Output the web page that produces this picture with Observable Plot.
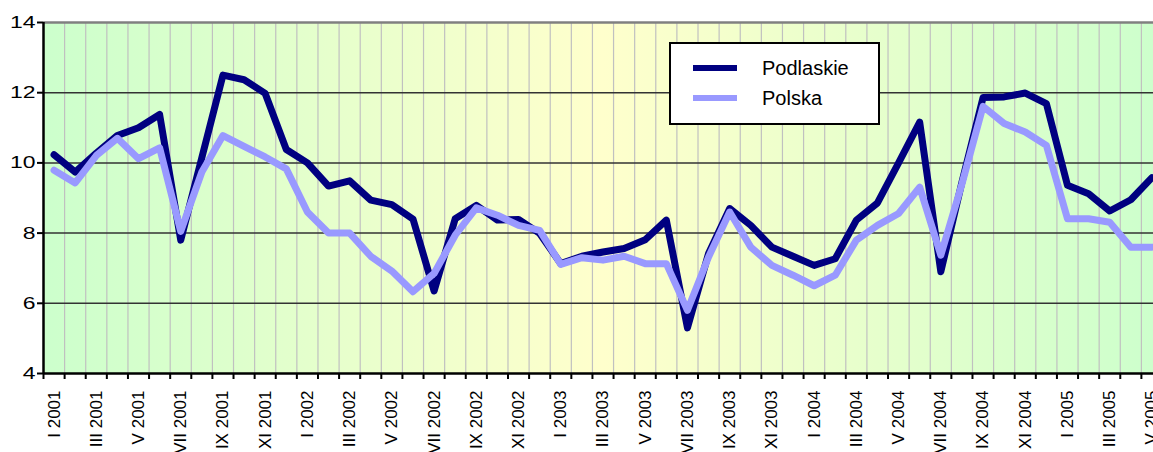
<!DOCTYPE html>
<html>
<head>
<meta charset="utf-8">
<script src="https://cdn.jsdelivr.net/npm/d3@7"></script>
<script src="https://cdn.jsdelivr.net/npm/@observablehq/plot@0.6"></script>
<style>
  html, body { margin: 0; padding: 0; background: #fff; overflow: hidden; }
  #wrap { position: relative; width: 1153px; height: 452px; overflow: hidden; font-family: "Liberation Sans", Arial, sans-serif; }
  #wrap svg { max-width: none !important; }
  #legend { position: absolute; left: 669px; top: 42px; width: 207px; height: 79px; border: 2px solid #000; background: #fff; }
  .item { position: absolute; left: 0; height: 20px; }
  .swatch { position: absolute; left: 22px; width: 44px; height: 6px; }
  .label { position: absolute; left: 91px; font-size: 20px; line-height: 20px; color: #000; white-space: nowrap; }
</style>
</head>
<body>
<div id="wrap"></div>
<script>
const romans = ["I","II","III","IV","V","VI","VII","VIII","IX","X","XI","XII"];
const years = [2001, 2002, 2003, 2004, 2005];
const months = years.flatMap(y => romans.map(r => `${r} ${y}`)).slice(0, 53);

const podlaskie = [10.23, 9.74, 10.28, 10.78, 11.0, 11.38, 7.8, 10.15, 12.5, 12.37, 11.98, 10.38, 10.0,
  9.34, 9.49, 8.94, 8.81, 8.4, 6.35, 8.41, 8.79, 8.37, 8.39, 7.99, 7.13, 7.34, 7.46,
  7.56, 7.81, 8.37, 5.3, 7.42, 8.7, 8.22, 7.6, 7.34, 7.08, 7.27, 8.37, 8.86,
  10.0, 11.16, 6.9, 9.45, 11.86, 11.88, 11.99, 11.69, 9.36, 9.12, 8.63, 8.95, 9.58];
const polska = [9.79, 9.43, 10.21, 10.7, 10.12, 10.43, 8.05, 9.74, 10.78, 10.47, 10.17, 9.83, 8.6,
  8.0, 8.0, 7.34, 6.92, 6.33, 6.85, 7.94, 8.72, 8.51, 8.22, 8.08, 7.11, 7.3, 7.23,
  7.34, 7.13, 7.13, 5.8, 7.32, 8.6, 7.6, 7.08, 6.8, 6.5, 6.8, 7.8, 8.22,
  8.56, 9.31, 7.37, 9.4, 11.61, 11.12, 10.88, 10.5, 8.41, 8.41, 8.31, 7.6, 7.6];
const yTicks = [4, 6, 8, 10, 12, 14];
const seriesNames = ["Podlaskie", "Polska"];
const seriesColors = ["#000080", "#9999ff"];

const rowsP = months.map((m, i) => ({i, m, v: podlaskie[i]}));
const rowsQ = months.map((m, i) => ({i, m, v: polska[i]}));
const labelRows = months.map((m, i) => ({i, m})).filter(d => d.i % 2 === 0);
const boundaries = d3.range(0, months.length + 1);

const font = "'Liberation Sans', Arial, sans-serif";

const chart = Plot.plot({
  width: 1162,
  height: 452,
  marginLeft: 43,
  marginRight: 0,
  marginTop: 22,
  marginBottom: 79,
  style: {fontFamily: font, background: "transparent", overflow: "visible"},
  x: {type: "linear", domain: [0, months.length], axis: null},
  y: {domain: [4, 14], axis: null},
  marks: [
    Plot.frame({fill: "url(#bggrad)", stroke: "none"}),
    Plot.ruleX(boundaries.slice(1, -1), {stroke: "#c0c0c0", strokeWidth: 1.2}),
    Plot.ruleY(yTicks.filter(t => t > 4 && t < 14), {stroke: "#333", strokeWidth: 1.5}),
    Plot.ruleY([14], {stroke: "#808080", strokeWidth: 2.5}),
    Plot.line(rowsP, {x: d => d.i + 0.5, y: "v", stroke: seriesColors[0], strokeWidth: 7, strokeLinejoin: "round", strokeLinecap: "round"}),
    Plot.line(rowsQ, {x: d => d.i + 0.5, y: "v", stroke: seriesColors[1], strokeWidth: 7, strokeLinejoin: "round", strokeLinecap: "round"}),
    Plot.ruleX([0], {stroke: "#000", strokeWidth: 2.5}),
    Plot.ruleY([4], {stroke: "#000", strokeWidth: 2.5}),
    Plot.axisY({ticks: yTicks, tickSize: 6, tickPadding: 2, fontSize: 17, stroke: "#000", strokeWidth: 2, color: "#000", tickFormat: d => String(d), label: null}),
    Plot.axisX({ticks: boundaries, tickSize: 6, tickFormat: () => "", stroke: "#000", strokeWidth: 2, label: null}),
    Plot.text(labelRows, {x: d => d.i + 0.5, y: () => 4, text: "m", rotate: -90, textAnchor: "end", dy: 17, fontSize: 17, fill: "#000"})
  ]
});

const svgNS = "http://www.w3.org/2000/svg";
const defs = document.createElementNS(svgNS, "defs");
defs.innerHTML = `<linearGradient id="bggrad" x1="0" y1="0" x2="1" y2="0">
  <stop offset="0" stop-color="#ccffcc"/>
  <stop offset="0.5" stop-color="#ffffcc"/>
  <stop offset="1" stop-color="#ccffcc"/>
</linearGradient>`;
chart.insertBefore(defs, chart.firstChild);

const wrap = document.getElementById("wrap");
wrap.appendChild(chart);

// widen the y tick labels as in the reference rendering (scale about each label's right edge)
const yTickStrings = yTicks.map(String);
chart.querySelectorAll("text").forEach(t => {
  if (!yTickStrings.includes(t.textContent.trim())) return;
  try {
    const b = t.getBBox();
    const r = b.x + b.width;
    const tr = t.getAttribute("transform") || "";
    t.setAttribute("transform", `${tr} translate(${r},0) scale(1.35,1) translate(${-r},0)`.trim());
  } catch (e) {}
});

const legend = document.createElement("div");
legend.id = "legend";
seriesNames.forEach((name, k) => {
  const item = document.createElement("div");
  item.className = "item";
  item.style.top = (14 + k * 30) + "px";
  const sw = document.createElement("div");
  sw.className = "swatch";
  sw.style.background = seriesColors[k];
  sw.style.top = "7px";
  const lb = document.createElement("div");
  lb.className = "label";
  lb.style.top = "0px";
  lb.textContent = name;
  item.appendChild(sw);
  item.appendChild(lb);
  legend.appendChild(item);
});
wrap.appendChild(legend);
</script>
</body>
</html>
